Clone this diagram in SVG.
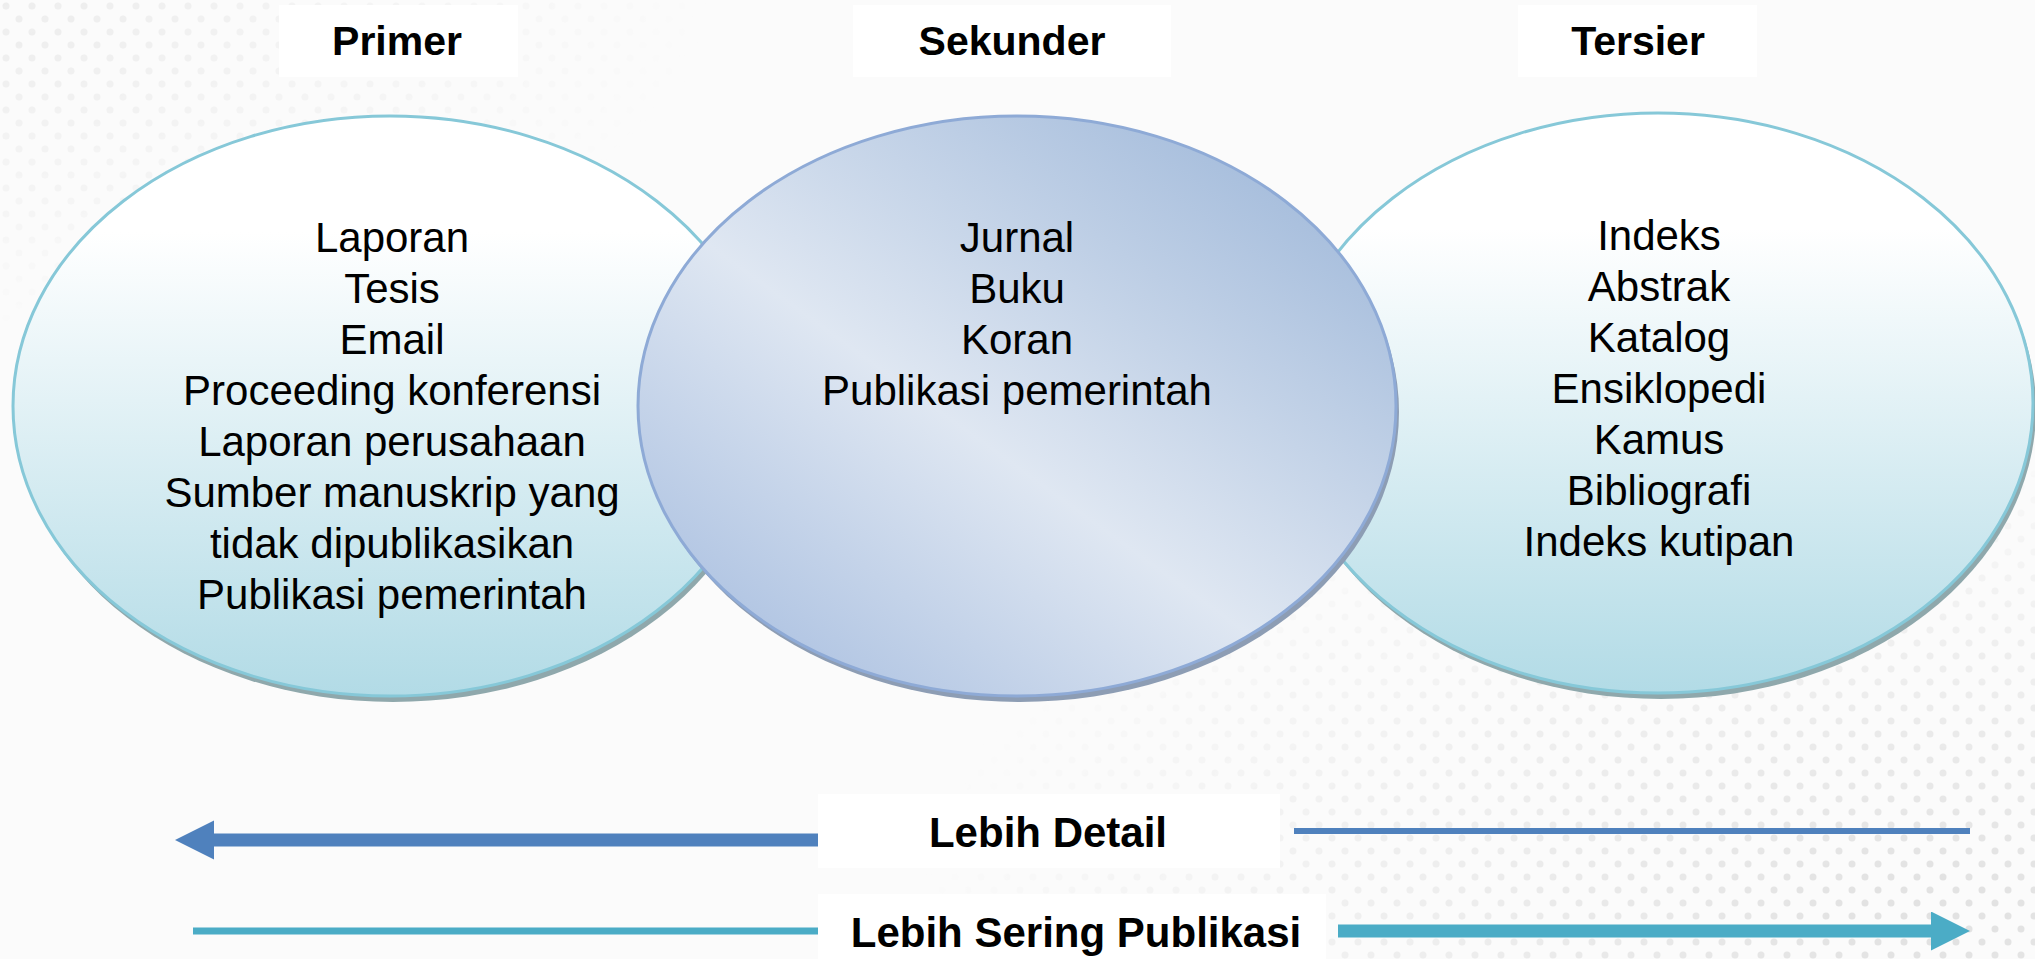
<svg xmlns="http://www.w3.org/2000/svg" width="2035" height="959" viewBox="0 0 2035 959">
<defs>
<style>
.t{font-family:"Liberation Sans",Arial,sans-serif;font-size:42px;fill:#000;text-anchor:middle}
.h{font-family:"Liberation Sans",Arial,sans-serif;font-size:41px;font-weight:bold;fill:#000;text-anchor:middle}
.b{font-family:"Liberation Sans",Arial,sans-serif;font-size:42px;font-weight:bold;fill:#000;text-anchor:middle}
.side{fill:url(#gSide);stroke:#86c8d8;stroke-width:3}
.mid{fill:url(#gMid);stroke:#8eaad6;stroke-width:3}
.shadowS{fill:#8fa8ac}
.shadowM{fill:#8d9db4}
.box{fill:#ffffff}
</style>
<linearGradient id="gSide" x1="0" y1="0" x2="0" y2="1">
<stop offset="0.2" stop-color="#ffffff"/>
<stop offset="1" stop-color="#b2dbe6"/>
</linearGradient>
<linearGradient id="gMid" x1="0.1" y1="0.95" x2="0.9" y2="0.1">
<stop offset="0" stop-color="#a9bfe0"/>
<stop offset="0.45" stop-color="#dfe7f2"/>
<stop offset="1" stop-color="#a3bbdb"/>
</linearGradient>
<pattern id="dots" width="26" height="26" patternUnits="userSpaceOnUse">
<circle cx="6" cy="6" r="3.5" fill="#dcdcdc"/>
<circle cx="19" cy="19" r="3.5" fill="#dcdcdc"/>
</pattern>
<radialGradient id="mg1" cx="0.95" cy="0.95" r="0.5">
<stop offset="0" stop-color="#fff" stop-opacity="0.85"/>
<stop offset="1" stop-color="#fff" stop-opacity="0"/>
</radialGradient>
<radialGradient id="mg2" cx="0" cy="0" r="0.35">
<stop offset="0" stop-color="#fff" stop-opacity="0.45"/>
<stop offset="1" stop-color="#fff" stop-opacity="0"/>
</radialGradient>
<mask id="m1"><rect width="2035" height="959" fill="url(#mg1)"/></mask>
<mask id="m2"><rect width="2035" height="959" fill="url(#mg2)"/></mask>
<marker id="ahBlue" markerUnits="userSpaceOnUse" markerWidth="40" markerHeight="40" refX="0" refY="19.5" orient="auto">
<path d="M0,0 L39,19.5 L0,39 Z" fill="#4f81bd"/>
</marker>
<marker id="ahTeal" markerUnits="userSpaceOnUse" markerWidth="40" markerHeight="40" refX="0" refY="19.5" orient="auto">
<path d="M0,0 L39,19.5 L0,39 Z" fill="#4bacc6"/>
</marker>
</defs>
<g id="background">
<rect width="2035" height="959" fill="#fbfbfb"/>
<rect width="2035" height="959" fill="url(#dots)" mask="url(#m1)"/>
<rect width="2035" height="959" fill="url(#dots)" mask="url(#m2)"/>
</g>
<g id="primer">
<rect class="box" x="279" y="5" width="239" height="72"/>
<text class="h" x="397" y="55">Primer</text>
<ellipse class="shadowS" cx="393" cy="412" rx="377" ry="290"/>
<ellipse class="side" cx="390" cy="406" rx="377" ry="290"/>
<text class="t" x="392" y="252">Laporan</text>
<text class="t" x="392" y="303">Tesis</text>
<text class="t" x="392" y="354">Email</text>
<text class="t" x="392" y="405">Proceeding konferensi</text>
<text class="t" x="392" y="456">Laporan perusahaan</text>
<text class="t" x="392" y="507">Sumber manuskrip yang</text>
<text class="t" x="392" y="558">tidak dipublikasikan</text>
<text class="t" x="392" y="609">Publikasi pemerintah</text>
</g>
<g id="tersier">
<rect class="box" x="1518" y="5" width="239" height="72"/>
<text class="h" x="1638" y="55">Tersier</text>
<ellipse class="shadowS" cx="1661" cy="409" rx="375" ry="290"/>
<ellipse class="side" cx="1658" cy="403" rx="375" ry="290"/>
<text class="t" x="1659" y="250">Indeks</text>
<text class="t" x="1659" y="301">Abstrak</text>
<text class="t" x="1659" y="352">Katalog</text>
<text class="t" x="1659" y="403">Ensiklopedi</text>
<text class="t" x="1659" y="454">Kamus</text>
<text class="t" x="1659" y="505">Bibliografi</text>
<text class="t" x="1659" y="556">Indeks kutipan</text>
</g>
<g id="sekunder">
<rect class="box" x="853" y="5" width="318" height="72"/>
<text class="h" x="1012" y="55">Sekunder</text>
<ellipse class="shadowM" cx="1020" cy="412" rx="379" ry="290"/>
<ellipse class="mid" cx="1017" cy="406" rx="379" ry="290"/>
<text class="t" x="1017" y="252">Jurnal</text>
<text class="t" x="1017" y="303">Buku</text>
<text class="t" x="1017" y="354">Koran</text>
<text class="t" x="1017" y="405">Publikasi pemerintah</text>
</g>
<g id="connectors">
<line x1="818" y1="840" x2="214" y2="840" stroke="#4f81bd" stroke-width="13" marker-end="url(#ahBlue)"/>
<line x1="1294" y1="831" x2="1970" y2="831" stroke="#4f81bd" stroke-width="6"/>
<line x1="193" y1="931" x2="818" y2="931" stroke="#4bacc6" stroke-width="7"/>
<line x1="1338" y1="931" x2="1931" y2="931" stroke="#4bacc6" stroke-width="13" marker-end="url(#ahTeal)"/>
</g>
<g id="label-detail">
<rect class="box" x="818" y="794" width="462" height="74"/>
<text class="b" x="1048" y="847">Lebih Detail</text>
</g>
<g id="label-sering">
<rect class="box" x="818" y="894" width="508" height="65"/>
<text class="b" x="1076" y="947">Lebih Sering Publikasi</text>
</g>
</svg>
